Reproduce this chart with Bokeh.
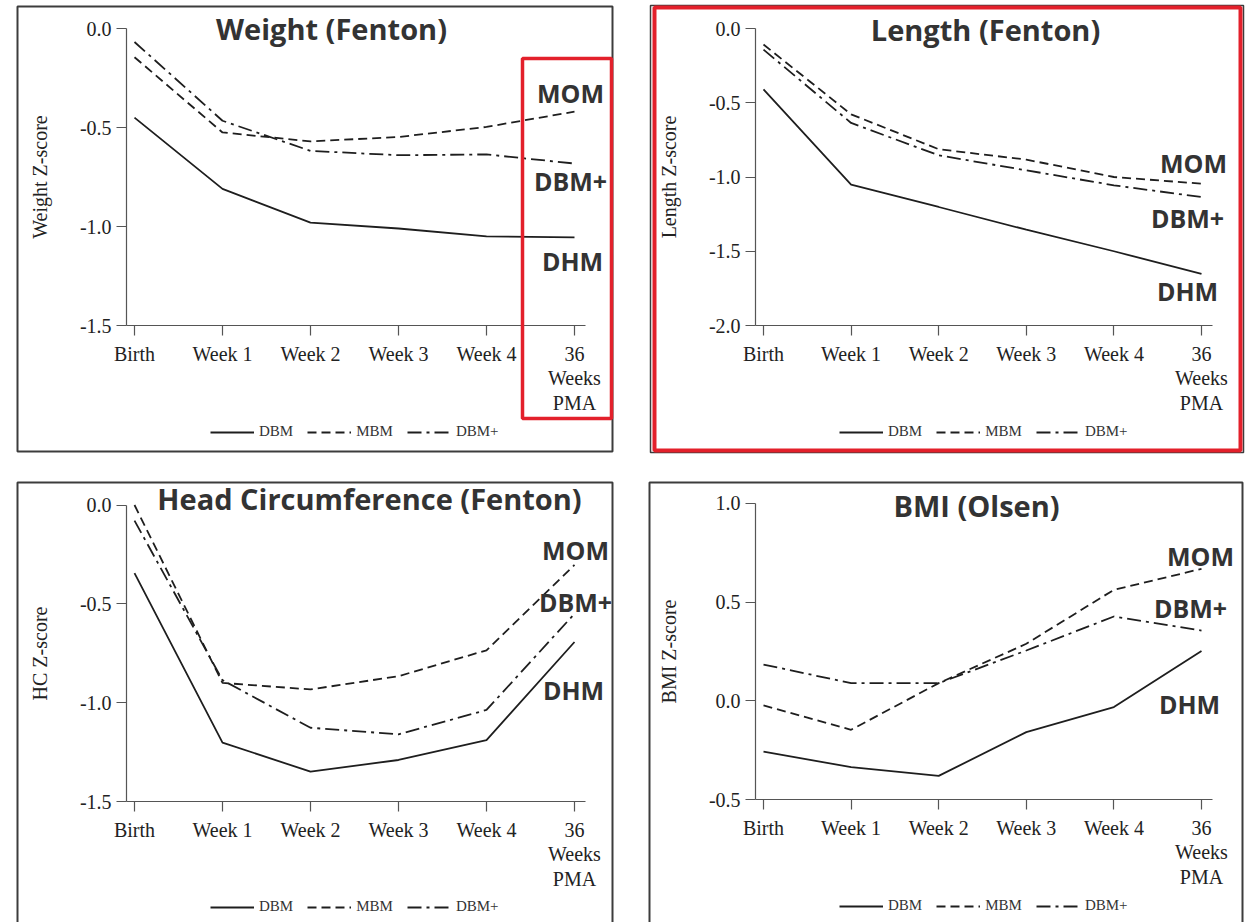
from bokeh.plotting import figure
from bokeh.layouts import column, row
from bokeh.models import (Range1d, LinearAxis, FixedTicker, PrintfTickFormatter,
                          Legend, LegendItem, Label, BoxAnnotation)
from bokeh.core.properties import value
from bokeh.embed import file_html
from bokeh.resources import INLINE

# ---------------- data ----------------
time_points = ["Birth", "Week 1", "Week 2", "Week 3", "Week 4", "36\nWeeks\nPMA"]
series_names = ["DBM", "MBM", "DBM+"]

weight_dbm = [-0.45, -0.81, -0.98, -1.01, -1.05, -1.055]
weight_mbm = [-0.145, -0.525, -0.57, -0.548, -0.497, -0.42]
weight_dbmp = [-0.068, -0.466, -0.618, -0.64, -0.636, -0.682]

length_dbm = [-0.41, -1.052, -1.202, -1.355, -1.50, -1.652]
length_mbm = [-0.108, -0.578, -0.813, -0.883, -1.00, -1.045]
length_dbmp = [-0.142, -0.636, -0.854, -0.955, -1.056, -1.135]

hc_dbm = [-0.345, -1.202, -1.349, -1.29, -1.189, -0.693]
hc_mbm = [0.0, -0.90, -0.933, -0.866, -0.735, -0.303]
hc_dbmp = [-0.079, -0.886, -1.127, -1.16, -1.037, -0.55]

bmi_dbm = [-0.256, -0.335, -0.379, -0.158, -0.031, 0.252]
bmi_mbm = [-0.023, -0.146, 0.09, 0.289, 0.562, 0.668]
bmi_dbmp = [0.184, 0.09, 0.09, 0.255, 0.427, 0.356]

weight_ticks = [0.0, -0.5, -1.0, -1.5]
length_ticks = [0.0, -0.5, -1.0, -1.5, -2.0]
hc_ticks = [0.0, -0.5, -1.0, -1.5]
bmi_ticks = [1.0, 0.5, 0.0, -0.5]

group_labels = ["MOM", "DBM+", "DHM"]

# ---------------- styling ----------------
INK = "#1e1e1e"
AX = "#555555"
TXT = "#333333"
RED = "#e3202b"
FRAME = "#3c3c3c"
SERIF = "Liberation Serif"
SANS = "Open Sans"
DASHES = ["solid", "9 5", "14 5 3 5"]

xs_idx = list(range(len(time_points)))


def make_panel(X0, Y0, W, H, px0, px5, ya, pya, yb, pyb):
    sx = (px5 - px0) / 5.0
    x_start = -(px0 - X0) / sx
    x_end = x_start + W / sx
    sy = (pyb - pya) / (ya - yb)
    y_end = ya + (pya - Y0) / sy
    y_start = y_end - H / sy
    p = figure(width=W, height=H, x_range=Range1d(x_start, x_end),
               y_range=Range1d(y_start, y_end), output_backend="svg",
               toolbar_location=None, min_border=0, x_axis_location=None,
               y_axis_location=None, title=None)
    p.outline_line_color = None
    p.background_fill_color = "white"
    p.border_fill_color = "white"
    p.grid.visible = False

    def fx(px):
        return x_start + (px - X0) / sx

    def fy(py):
        return y_end - (py - Y0) / sy

    return p, fx, fy


def add_axes(p, ticks, label, ybot, ytop):
    xa = LinearAxis(fixed_location=ybot,
                    ticker=FixedTicker(ticks=xs_idx, minor_ticks=[]),
                    major_label_overrides={i: t for i, t in enumerate(time_points)},
                    bounds=(-0.09, 5.12))
    ya = LinearAxis(fixed_location=-0.09,
                    ticker=FixedTicker(ticks=ticks, minor_ticks=[]),
                    formatter=PrintfTickFormatter(format="%.1f"),
                    bounds=(ybot, ytop), axis_label=label)
    for a in (xa, ya):
        a.axis_line_color = AX
        a.axis_line_width = 1.2
        a.major_tick_line_color = AX
        a.major_tick_line_width = 1.2
        a.major_tick_out = 10
        a.major_tick_in = 0
        a.minor_tick_line_color = None
        a.major_label_text_font = SERIF
        a.major_label_text_font_size = "20px"
        a.major_label_text_color = "#222222"
        a.major_label_text_line_height = 1.12
        a.axis_label_text_font = SERIF
        a.axis_label_text_font_size = "20px"
        a.axis_label_text_font_style = "normal"
        a.axis_label_text_color = "#222222"
    xa.major_label_standoff = 7
    ya.major_label_standoff = 5
    ya.axis_label_standoff = 26
    p.add_layout(xa, "below")
    p.add_layout(ya, "left")


def add_lines(p, series, legend_loc):
    rs = []
    for ys, dash in zip(series, DASHES):
        r = p.line(xs_idx, ys, line_color=INK, line_width=1.8, line_dash=dash)
        rs.append(r)
    items = [LegendItem(label=value(n), renderers=[r]) for n, r in zip(series_names, rs)]
    leg = Legend(items=items, orientation="horizontal", location=legend_loc,
                 glyph_width=44, glyph_height=16, label_height=16, label_standoff=5,
                 spacing=14, padding=0, margin=0, border_line_color=None,
                 background_fill_alpha=0, label_text_font=SERIF,
                 label_text_font_size="15px", label_text_color=TXT)
    p.add_layout(leg)


def add_title(p, fx, fy, text, px, py):
    p.add_layout(Label(x=fx(px), y=fy(py), text=text, text_font=SANS,
                       text_font_style="bold", text_font_size="29px",
                       text_align="center", text_baseline="middle", text_color=TXT))


def add_groups(p, fx, fy, positions):
    for t, (px, py) in zip(group_labels, positions):
        p.add_layout(Label(x=fx(px), y=fy(py), text=t, text_font=SANS,
                           text_font_style="bold", text_font_size="25px",
                           text_align="center", text_baseline="middle", text_color=TXT))


def add_box(p, fx, fy, l, r, t, b, color, width):
    p.add_layout(BoxAnnotation(left=fx(l), right=fx(r), top=fy(t), bottom=fy(b),
                               fill_color=None, fill_alpha=0, line_color=color,
                               line_alpha=1.0, line_width=width))


# ---------------- panel 1: weight ----------------
p1, f1x, f1y = make_panel(0, 0, 631, 462, 134, 574, 0.0, 28, -1.5, 325)
add_axes(p1, weight_ticks, "Weight Z-score", -1.5, 0.0)
add_lines(p1, [weight_dbm, weight_mbm, weight_dbmp], (210, 22))
add_title(p1, f1x, f1y, "Weight (Fenton)", 331, 28)
add_groups(p1, f1x, f1y, [(570, 92), (570, 180), (572, 260)])
add_box(p1, f1x, f1y, 17, 612, 6, 451, FRAME, 2)
add_box(p1, f1x, f1y, 522, 611, 58, 418, RED, 3.5)

# ---------------- panel 2: length ----------------
p2, f2x, f2y = make_panel(631, 0, 621, 462, 763, 1201, 0.0, 28, -2.0, 325)
add_axes(p2, length_ticks, "Length Z-score", -2.0, 0.0)
add_lines(p2, [length_dbm, length_mbm, length_dbmp], (208, 22))
add_title(p2, f2x, f2y, "Length (Fenton)", 985, 29)
add_groups(p2, f2x, f2y, [(1193, 162), (1187, 217), (1187, 290)])
add_box(p2, f2x, f2y, 650, 1243, 5, 452, FRAME, 1.5)
add_box(p2, f2x, f2y, 654, 1240, 7, 450, RED, 4)

# ---------------- panel 3: head circumference ----------------
p3, f3x, f3y = make_panel(0, 462, 631, 460, 134, 574, 0.0, 504.5, -1.5, 801)
add_axes(p3, hc_ticks, "HC Z-score", -1.5, 0.0)
add_lines(p3, [hc_dbm, hc_mbm, hc_dbmp], (210, 7))
add_title(p3, f3x, f3y, "Head Circumference (Fenton)", 369, 498)
add_groups(p3, f3x, f3y, [(575, 549), (575, 601), (573, 689)])
add_box(p3, f3x, f3y, 17, 612, 482, 1000, FRAME, 2)

# ---------------- panel 4: BMI ----------------
p4, f4x, f4y = make_panel(631, 462, 621, 460, 763, 1201, 1.0, 502.7, -0.5, 799.3)
add_axes(p4, bmi_ticks, "BMI Z-score", -0.5, 1.0)
add_lines(p4, [bmi_dbm, bmi_mbm, bmi_dbmp], (208, 8))
add_title(p4, f4x, f4y, "BMI (Olsen)", 976, 505)
add_groups(p4, f4x, f4y, [(1200, 555), (1190, 607), (1189, 703)])
add_box(p4, f4x, f4y, 649, 1242, 482, 1000, FRAME, 2)

layout = column(row(p1, p2), row(p3, p4))
open("out.html", "w").write(file_html(layout, INLINE))
